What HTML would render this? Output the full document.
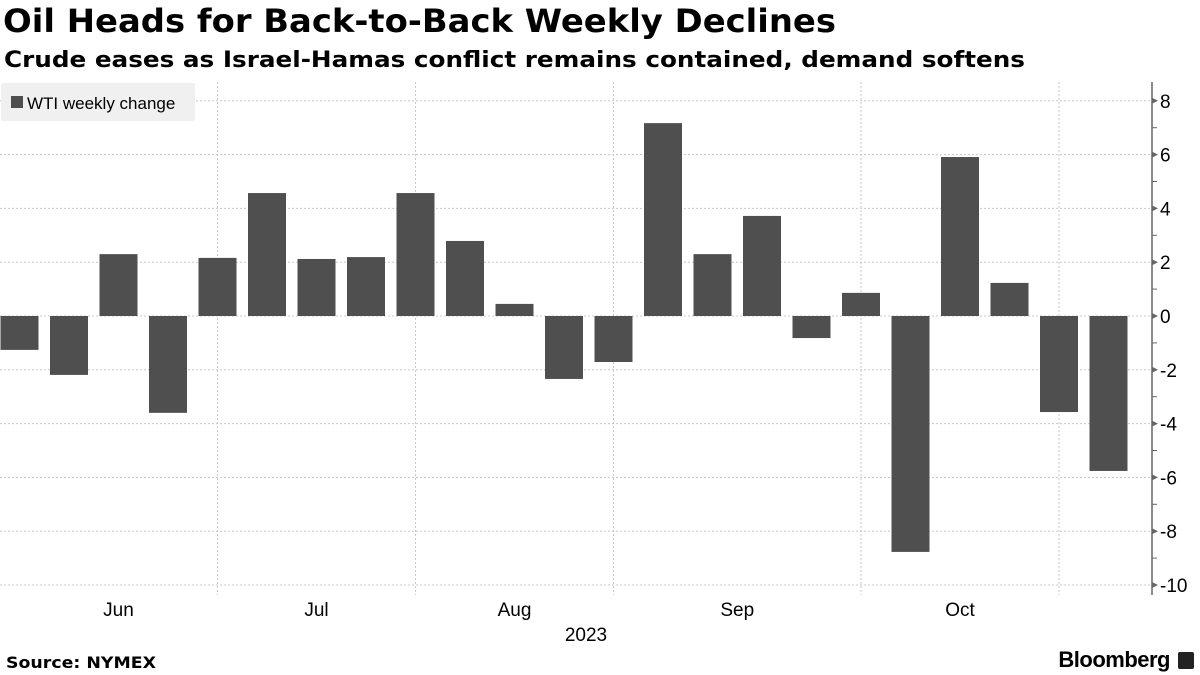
<!DOCTYPE html>
<html><head><meta charset="utf-8"><style>
body{margin:0;width:1200px;height:675px;background:#fff;font-family:"Liberation Sans",sans-serif;overflow:hidden;position:relative}
.bb{position:absolute;right:30px;bottom:2px;font-size:22px;font-weight:bold;letter-spacing:-0.5px}
</style></head><body>
<svg id="c" width="1200" height="675" style="position:absolute;left:0;top:0">
<text x="3" y="32" font-size="32" font-weight="bold" font-family="DejaVu Sans" textLength="833" lengthAdjust="spacingAndGlyphs">Oil Heads for Back-to-Back Weekly Declines</text>
<text x="4" y="67" font-size="22" font-weight="bold" font-family="DejaVu Sans" textLength="1021" lengthAdjust="spacingAndGlyphs">Crude eases as Israel-Hamas conflict remains contained, demand softens</text>
<text x="6" y="668" font-size="16" font-weight="bold" font-family="DejaVu Sans" textLength="150" lengthAdjust="spacingAndGlyphs">Source: NYMEX</text>
</svg>
<div class="bb">Bloomberg</div>
<div style="position:absolute;right:6px;bottom:6px;width:16px;height:17px;background:#222;border-radius:2px"></div>
<script>
const values=[-1.26,-2.19,2.30,-3.6,2.16,4.57,2.12,2.19,4.57,2.79,0.45,-2.34,-1.71,7.17,2.30,3.72,-0.82,0.86,-8.77,5.91,1.23,-3.57,-5.76];
const yTicks=[8,6,4,2,0,-2,-4,-6,-8,-10];
const months=["Jun","Jul","Aug","Sep","Oct"];
const monthPos=[2,6,10,14.5,19];
const monthBounds=[4,8,12,17,21];
const NS="http://www.w3.org/2000/svg",svg=document.getElementById('c');
const y=v=>316-v*26.9, x=i=>19.5+i*49.5;
function el(t,a){const e=document.createElementNS(NS,t);for(const k in a)e.setAttribute(k,a[k]);svg.appendChild(e);return e;}
yTicks.forEach(v=>{
 const g=el('line',{x1:0,x2:1152,y1:y(v),y2:y(v),stroke:'#c8c8c8','stroke-dasharray':'2,2'});
 
 el('path',{d:`M1152 ${y(v)-3}L1158 ${y(v)}L1152 ${y(v)+3}Z`,fill:'#666'});
 const t=el('text',{x:1160,y:y(v)+7,'font-size':19,fill:'#000','font-family':'Liberation Sans'});t.textContent=(v<0?'-':'')+Math.abs(v);
 
});
for(let v=-9;v<=7;v+=2){el('line',{x1:1152,x2:1157,y1:y(v),y2:y(v),stroke:'#666'});}
monthBounds.forEach(b=>{
 const g=el('line',{x1:x(b),x2:x(b),y1:82,y2:595,stroke:'#c8c8c8','stroke-dasharray':'2,2'});
 
});
values.forEach((v,i)=>{
 const r=el('rect',{x:x(i)-19,width:38,y:Math.min(y(v),y(0)),height:Math.abs(y(v)-y(0)),fill:'#4f4f4f'});
 
});
el('line',{x1:1152,x2:1152,y1:82,y2:595,stroke:'#666','stroke-width':1.5});
months.forEach((m,k)=>{
 const t=el('text',{x:x(monthPos[k]),y:616,'font-size':19,'text-anchor':'middle','font-family':'Liberation Sans'});t.textContent=m;
 
});
const yr=el('text',{x:586,y:641,'font-size':19,'text-anchor':'middle','font-family':'Liberation Sans'});yr.textContent='2023';

const lg=el('rect',{x:1,y:83,width:194,height:38,fill:'#f0f0f0',rx:2});

const ls=el('rect',{x:11,y:96,width:12,height:12,fill:'#4f4f4f'});

const lt=el('text',{x:27,y:109,'font-size':17,'font-family':'Liberation Sans'});lt.textContent='WTI weekly change';

</script>
</body></html>
